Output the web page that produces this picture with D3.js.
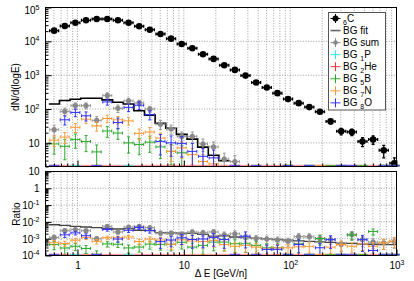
<!DOCTYPE html>
<html>
<head>
<meta charset="utf-8">
<script src="https://cdn.jsdelivr.net/npm/d3@7"></script>
<style>
body { margin: 0; background: #fff; }
svg { font-family: "Liberation Sans", Arial, sans-serif; }
</style>
</head>
<body>
<script>
// bin centres in GeV/n (0.1 decade bins)
var binCenters = [0.603, 0.759, 0.955, 1.202, 1.514, 1.905, 2.399, 3.020, 3.802, 4.786, 6.026, 7.586, 9.550,
  12.02, 15.14, 19.05, 23.99, 30.20, 38.02, 47.86, 60.26, 75.86, 95.50, 120.2, 151.4, 190.5, 239.9, 302.0,
  380.2, 478.6, 602.6, 758.6, 955.0];

// carbon signal
var carbon = [20700, 28400, 35600, 41900, 45800, 45800, 41900, 35600, 27900, 22100, 16500, 12000, 8380,
  6250, 4160, 3030, 1970, 1430, 973, 605, 431, 294, 196, 149, 114, 83, 43, 22, 21, 11, 12.6, 6, 2.5];
var carbonErr = [150, 170, 190, 205, 215, 215, 205, 190, 170, 150, 130, 110, 92, 79, 65, 55, 44, 38, 31,
  25, 21, 17, 14, 12, 11, 9, 6.5, 4.7, 4.6, 3.3, 3.5, 2.4, 1.1];

// background
var bgFit = [140, 178, 195, 209, 209, 186, 158, 141, 89, 66, 38, 27, 17.8, 12.9, 7.5, 4.3, 2.95, 1.8, 1.14,
  0.65, 0.42, 0.27, 0.16, 0.11, 0.080, 0.053, 0.026, 0.012, 0.011, 0.0052, 0.0059, 0.0027, 0.0011];
var bgSum = [24.5, 85, 126, 126, 46, 251, 105, 174, 151, 100, 35.5, 25.7, 15.5, 15.5, 9.3, 7.6, 3.3, 2.8, 1.2,
  0.62, 0.41, 0.245, 0.14, 0.20, 0.15, 0.083, 0.038, 0.010, 0.037, 0.0096, 0.0079, 0.0034, 0.0017];
var bgSumRelErr = [0.35, 0.25, 0.2, 0.2, 0.3, 0.2, 0.25, 0.2, 0.2, 0.2, 0.3, 0.3, 0.35, 0.35, 0.4, 0.4, 0.5,
  0.5, 0.5, 0.5, 0.5, 0.5, 0.5, 0.5, 0.5, 0.5, 0.5, 0.6, 0.5, 0.6, 0.6, 0.6, 0.6];

// null = no entry, 0 = empty bin
var bgP = [null, null, 0, null, null, null, null, 0, null, null, null, null, null, null, null, null, null,
  null, null, null, null, null, null, null, null, null, null, null, null, null, null, null, null];
var bgHe = [0, 0, 0, 0, 0, 0, 0, 0, 0, 0, 0, 0, 0, 0, 0, 0, 0, 0, 0, 0, 0, 0, 0, 0, 0, 0, 0, 0, 0, 0, 0, 0, 0];
var bgB = [9.3, 7.9, 12.6, 11, 5.4, 22.4, 19.5, 10, 8.9, 10.5, 7.6, 5.6, 5.1, 1.98, 1.66, 1.9, 1.24, 0.72, 0.49,
  0.24, 0.124, 0.085, 0, 0.075, 0, 0.085, 0, 0, 0.034, 0, 0.034, 0, 0];
var bgBRelErr = [0.5, 0.6, 0.45, 0.5, 0.6, 0.35, 0.35, 0.5, 0.5, 0.5, 0.55, 0.6, 0.6, 0.7, 0.7, 0.7, 0.7, 0.7,
  0.7, 0.7, 0.7, 0.7, 0, 0.7, 0, 0.6, 0, 0, 0.5, 0, 0.4, 0, 0];
var bgN = [12, 14.8, 28.8, 50, 31.6, 52.5, 48, 44.7, 19, 20.9, 13.8, 5.6, 7.1, 4.5, 2.8, 2.4, 0.88, 0.51, 0.39,
  0.19, 0.108, 0.083, 0.056, 0.049, 0.040, 0, 0.0135, 0.0097, 0.0074, 0.0054, 0.0045, 0.0034, 0.0018];
var bgNRelErr = [0.35, 0.35, 0.3, 0.25, 0.3, 0.25, 0.25, 0.25, 0.35, 0.35, 0.4, 0.5, 0.5, 0.5, 0.6, 0.6, 0.6,
  0.6, 0.6, 0.6, 0.6, 0.6, 0.6, 0.6, 0.6, 0, 0.6, 0.6, 0.6, 0.6, 0.6, 0.6, 0.6];
var bgO = [0, 48, 79, 63, 0, 162, 40, 112, 129, 68, 11, 10, 9.5, 5.6, 4.0, 3.6, 1.76, 0, 1.37, 0, 0.099, 0.068,
  0, 0.067, 0, 0.024, 0.038, 0, 0, 0.0096, 0.0025, 0, 0];
var bgORelErr = [0, 0.3, 0.25, 0.3, 0, 0.2, 0.35, 0.25, 0.25, 0.3, 0.6, 0.6, 0.6, 0.7, 0.7, 0.7, 0.7, 0, 0.8,
  0, 0.8, 0.8, 0, 0.9, 0, 0.8, 0.7, 0, 0, 0.8, 0.9, 0, 0];

// tick labels
var xLabelTicks = [1, 10, 100, 1000];
var xLabels = ["1", "10", "10^2", "10^3"];
var yTopLabelTicks = [10, 100, 1e3, 1e4, 1e5];
var yTopLabels = ["10", "10^2", "10^3", "10^4", "10^5"];
var yRatioLabelTicks = [1e-4, 1e-3, 1e-2, 1e-1, 1, 10];
var yRatioLabels = ["10^-4", "10^-3", "10^-2", "10^-1", "1", "10"];
var legendLabels = ["_6C", "BG fit", "BG sum", "BG _1P", "BG _2He", "BG _5B", "BG _7N", "BG _8O"];

var svgWidth = 414, svgHeight = 281;

var svg = d3.select("body").append("svg")
  .attr("width", svgWidth)
  .attr("height", svgHeight);

var x = d3.scaleLog().domain([0.5, 1000]).range([45.5, 396.5]);
var yTop = d3.scaleLog().domain([2, 1e5]).range([166.5, 7.5]);
var yRat = d3.scaleLog().domain([1e-4, 10]).range([255.5, 171.5]);

// bin edges: geometric mid points
var edges = [];
for (var i = 0; i <= binCenters.length; i++) {
  if (i === 0) edges.push(binCenters[0] * Math.sqrt(binCenters[0] / binCenters[1]));
  else if (i === binCenters.length) edges.push(binCenters[i - 1] * Math.sqrt(binCenters[i - 1] / binCenters[i - 2]));
  else edges.push(Math.sqrt(binCenters[i - 1] * binCenters[i]));
}

function isDecade(d) {
  var l = Math.log10(d);
  return Math.abs(l - Math.round(l)) < 1e-6;
}

// text with ^sup and _sub parts; base = baseline shift in px for the first part
function richText(el, s, base) {
  el.text(null);
  var parts = s.split(/([\^_]-?\d+)/);
  var off = -(base || 0);
  parts.forEach(function(p) {
    if (!p) return;
    var sh = 0, small = false;
    if (p[0] === "^") { sh = -4; small = true; p = p.slice(1); }
    else if (p[0] === "_") { sh = 2.5; small = true; p = p.slice(1); }
    el.append("tspan").attr("dy", sh - off).attr("font-size", small ? "7px" : null).text(p);
    off = sh;
  });
}

function panel(y, id) {
  var g = svg.append("g");
  var x0 = x.range()[0], x1 = x.range()[1], yb = y.range()[0], yt = y.range()[1];
  svg.append("clipPath").attr("id", id).append("rect")
    .attr("x", x0).attr("y", yt).attr("width", x1 - x0).attr("height", yb - yt);

  // grid
  var grid = g.append("g").attr("stroke", "#888").attr("stroke-width", 0.8).attr("stroke-dasharray", "1,1.6");
  x.ticks().filter(function(d) { return d > 0.5 && d < 1000; }).forEach(function(d) {
    grid.append("line").attr("x1", x(d)).attr("x2", x(d)).attr("y1", yt).attr("y2", yb);
  });
  y.ticks().filter(function(d) { return isDecade(d) && d > y.domain()[0] && d < y.domain()[1]; }).forEach(function(d) {
    grid.append("line").attr("x1", x0).attr("x2", x1).attr("y1", y(d)).attr("y2", y(d));
  });

  var data = g.append("g").attr("clip-path", "url(#" + id + ")");
  var zeros = g.append("g");
  return { g: g, data: data, zeros: zeros };
}

function drawPoints(p, y, vals, errAt, o) {
  var ymin = y.domain()[0], ymax = y.domain()[1];
  var bottom = y.range()[0];
  vals.forEach(function(v, i) {
    if (v === null) return;
    var xa = x(edges[i]) + 0.8, xb = x(edges[i + 1]) - 0.8, xc = x(binCenters[i]);
    if (v === 0) {
      p.zeros.append("line").attr("x1", xa - 0.8).attr("x2", xb + 0.8)
        .attr("y1", bottom - 0.8).attr("y2", bottom - 0.8)
        .attr("stroke", o.color).attr("stroke-width", 1.8).attr("stroke-opacity", o.zeroOpacity || 0.75);
      return;
    }
    if (v < ymin || v > ymax) return;
    var e = errAt(i, v);
    var yc = y(v);
    var yhi = y(v + e);
    var ylo = v - e > 0 ? y(v - e) : bottom + 5;
    var eg = p.data.append("g").attr("stroke", o.errColor || o.color).attr("stroke-width", o.width || 1);
    eg.append("line").attr("x1", xa).attr("x2", xb).attr("y1", yc).attr("y2", yc);
    eg.append("line").attr("x1", xc).attr("x2", xc).attr("y1", ylo).attr("y2", yhi);
    // end caps
    eg.append("line").attr("x1", xa).attr("x2", xa).attr("y1", yc - 1.5).attr("y2", yc + 1.5);
    eg.append("line").attr("x1", xb).attr("x2", xb).attr("y1", yc - 1.5).attr("y2", yc + 1.5);
    eg.append("line").attr("x1", xc - 1.5).attr("x2", xc + 1.5).attr("y1", yhi).attr("y2", yhi);
    if (v - e > 0) eg.append("line").attr("x1", xc - 1.5).attr("x2", xc + 1.5).attr("y1", ylo).attr("y2", ylo);
    if (o.r) {
      p.data.append("circle").attr("cx", xc).attr("cy", yc).attr("r", o.r).attr("fill", o.fill);
    }
  });
}

function drawSteps(p, y, vals, color, w) {
  var ymin = y.domain()[0];
  var segs = [], cur = [];
  vals.forEach(function(v, i) {
    if (v !== null && v >= ymin) {
      cur.push([x(edges[i]), y(v)], [x(edges[i + 1]), y(v)]);
    } else {
      if (cur.length) segs.push(cur);
      cur = [];
    }
  });
  if (cur.length) segs.push(cur);
  segs.forEach(function(s) {
    p.data.append("path").attr("d", d3.line()(s))
      .attr("fill", "none").attr("stroke", color).attr("stroke-width", w);
  });
}

function frameAndTicks(p, y, labelTicks, labels, showX) {
  var x0 = x.range()[0], x1 = x.range()[1], yb = y.range()[0], yt = y.range()[1];
  var yt_ = y.ticks();
  var ax = p.g.append("g").attr("stroke-width", 1);
  ax.append("g").attr("transform", "translate(" + x0 + ",0)")
    .call(d3.axisLeft(y).tickValues(yt_.filter(isDecade)).tickSize(-6).tickSizeOuter(0).tickFormat(""));
  ax.append("g").attr("transform", "translate(" + x0 + ",0)")
    .call(d3.axisLeft(y).tickValues(yt_.filter(function(d) { return !isDecade(d); })).tickSize(-3).tickSizeOuter(0).tickFormat(""));
  var xt = x.ticks();
  ax.append("g").attr("transform", "translate(0," + yb + ")")
    .call(d3.axisBottom(x).tickValues(xt.filter(isDecade)).tickSize(-6).tickSizeOuter(0).tickFormat(""));
  ax.append("g").attr("transform", "translate(0," + yb + ")")
    .call(d3.axisBottom(x).tickValues(xt.filter(function(d) { return !isDecade(d); })).tickSize(-3).tickSizeOuter(0).tickFormat(""));
  ax.selectAll(".domain").remove();

  var yl = p.g.append("g").attr("transform", "translate(" + x0 + ",0)")
    .call(d3.axisLeft(y).tickValues(labelTicks).tickSize(0).tickPadding(6)
      .tickFormat(function(d, i) { return labels[i]; }));
  yl.select(".domain").remove();
  yl.attr("font-family", null).attr("font-size", 10);
  yl.selectAll(".tick text").attr("dy", null).each(function(d) {
    // centre the digits on the tick; nudge the topmost label into the page
    richText(d3.select(this), d3.select(this).text(), y(d) < 12 ? 5.8 : 3.4);
  });

  if (showX) {
    var xl = p.g.append("g").attr("transform", "translate(0," + yb + ")")
      .call(d3.axisBottom(x).tickValues(xLabelTicks).tickSize(0).tickPadding(6)
        .tickFormat(function(d, i) { return xLabels[i]; }));
    xl.select(".domain").remove();
    xl.attr("font-family", null).attr("font-size", 10);
    xl.selectAll(".tick text").attr("dy", null).each(function() {
      richText(d3.select(this), d3.select(this).text(), 7.4);
    });
  }

  p.g.append("rect").attr("x", x0).attr("y", yt).attr("width", x1 - x0).attr("height", yb - yt)
    .attr("fill", "none").attr("stroke", "#000").attr("stroke-width", 1);
}

var styles = {
  P: { color: "#33e8e8" },
  He: { color: "#ff3333", zeroOpacity: 0.5 },
  B: { color: "#2aaa2a" },
  N: { color: "#ff9a33" },
  O: { color: "#3333ff" }
};
var bgSeries = [
  { vals: bgHe, rel: null, st: styles.He },
  { vals: bgP, rel: null, st: styles.P },
  { vals: bgB, rel: bgBRelErr, st: styles.B },
  { vals: bgN, rel: bgNRelErr, st: styles.N },
  { vals: bgO, rel: bgORelErr, st: styles.O }
];

function relErr(arr) {
  return function(i, v) { return arr ? v * arr[i] : 0; };
}

// ---- upper panel: dN/d(logE)
var upper = panel(yTop, "clipTop");
drawSteps(upper, yTop, bgFit, "#000", 1.6);
drawPoints(upper, yTop, bgSum, relErr(bgSumRelErr), { color: "#999", r: 2.6, fill: "#888" });
bgSeries.forEach(function(s) {
  drawPoints(upper, yTop, s.vals, relErr(s.rel), s.st);
});
drawPoints(upper, yTop, carbon, function(i) { return carbonErr[i]; }, { color: "#000", width: 1.3, r: 3.3, fill: "#000" });
frameAndTicks(upper, yTop, yTopLabelTicks, yTopLabels, false);

// ---- lower panel: ratio to carbon
function ratio(vals) {
  return vals.map(function(v, i) { return v === null || v === 0 ? v : v / carbon[i]; });
}
var lower = panel(yRat, "clipRat");
drawSteps(lower, yRat, ratio(bgFit), "#444", 1.3);
drawPoints(lower, yRat, ratio(bgSum), relErr(bgSumRelErr), { color: "#999", r: 2.6, fill: "#888" });
bgSeries.forEach(function(s) {
  drawPoints(lower, yRat, ratio(s.vals), relErr(s.rel), s.st);
});
frameAndTicks(lower, yRat, yRatioLabelTicks, yRatioLabels, true);

// axis titles
svg.append("text").attr("transform", "translate(18.5,87) rotate(-90)")
  .attr("text-anchor", "middle").attr("font-size", 10).text("dN/d(logE)");
svg.append("text").attr("transform", "translate(19.5,214) rotate(-90)")
  .attr("text-anchor", "middle").attr("font-size", 10).text("Ratio");
svg.append("text").attr("x", 221).attr("y", 277)
  .attr("text-anchor", "middle").attr("font-size", 10).text("\u0394 E [GeV/n]");

// ---- legend
var leg = svg.append("g");
leg.append("rect").attr("x", 328.5).attr("y", 12.5).attr("width", 57).attr("height", 97.5)
  .attr("fill", "#fff").attr("stroke", "#555").attr("stroke-width", 1);
var legColors = ["#000", "#666", "#888", styles.P.color, styles.He.color, styles.B.color, styles.N.color, styles.O.color];
legendLabels.forEach(function(lab, i) {
  var ly = 18.5 + i * 12.05;
  var c = legColors[i];
  var sg = leg.append("g").attr("stroke", c);
  if (i === 1) {
    sg.append("line").attr("x1", 330.5).attr("x2", 340.5).attr("y1", ly).attr("y2", ly).attr("stroke-width", 1.6);
  } else {
    sg.append("line").attr("x1", 330.5).attr("x2", 340.5).attr("y1", ly).attr("y2", ly);
    sg.append("line").attr("x1", 335.5).attr("x2", 335.5).attr("y1", ly - 4.5).attr("y2", ly + 4.5);
    if (i === 0) leg.append("circle").attr("cx", 335.5).attr("cy", ly).attr("r", 3).attr("fill", "#000");
    if (i === 2) leg.append("circle").attr("cx", 335.5).attr("cy", ly).attr("r", 2.3).attr("fill", "#888");
  }
  var t = leg.append("text").attr("x", 343).attr("y", ly).attr("font-size", 10);
  richText(t, lab, 3.6);
});
</script>
</body>
</html>
